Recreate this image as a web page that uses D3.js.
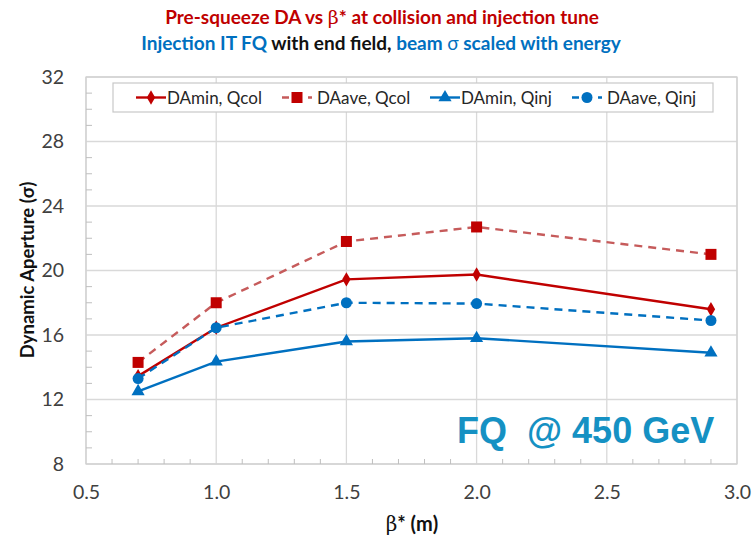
<!DOCTYPE html>
<html><head><meta charset="utf-8">
<script src="https://cdn.jsdelivr.net/npm/d3@7"></script>
<style>
body{margin:0;background:#fff;}
svg{display:block;font-family:Lato,"Liberation Sans",sans-serif;}
</style></head>
<body><svg id="c" width="754" height="538"></svg>
<script>
const betaStar = [0.7, 1.0, 1.5, 2.0, 2.9];
const daMinQcol = [13.45, 16.45, 19.45, 19.75, 17.6];
const daAveQcol = [14.3, 18.0, 21.8, 22.7, 21.0];
const daMinQinj = [12.5, 14.35, 15.6, 15.8, 14.9];
const daAveQinj = [13.3, 16.45, 18.0, 17.95, 16.9];
const xTicks = [0.5, 1.0, 1.5, 2.0, 2.5, 3.0];
const yTicks = [8, 12, 16, 20, 24, 28, 32];
const seriesNames = ["DAmin, Qcol", "DAave, Qcol", "DAmin, Qinj", "DAave, Qinj"];

const series = [
  {name: seriesNames[0], values: daMinQcol, color: "#C00000", lineColor: "#C00000", dash: null, marker: "diamond"},
  {name: seriesNames[1], values: daAveQcol, color: "#C00000", lineColor: "#C65B5B", dash: "8,6", marker: "square"},
  {name: seriesNames[2], values: daMinQinj, color: "#0070C0", lineColor: "#0070C0", dash: null, marker: "triangle"},
  {name: seriesNames[3], values: daAveQinj, color: "#0070C0", lineColor: "#0070C0", dash: "8,6", marker: "circle"}
];

const svg = d3.select("#c");
const L = 86, R = 737, T = 77, B = 464;
const x = d3.scaleLinear().domain([0.5, 3.0]).range([L, R]);
const y = d3.scaleLinear().domain([8, 32]).range([B, T]);

// Titles
const t1 = svg.append("text").attr("x", 382).attr("y", 24).attr("text-anchor", "middle")
  .attr("font-size", 19).attr("font-weight", "bold").attr("fill", "#C00000");
t1.append("tspan").text("Pre-squeeze DA vs ");
t1.append("tspan").attr("font-weight", "normal").attr("font-family", "DejaVu Serif").attr("font-size", 19).text("β");
t1.append("tspan").text("* at collision and injection tune");
const t2 = svg.append("text").attr("x", 381).attr("y", 50).attr("text-anchor", "middle")
  .attr("font-size", 19).attr("font-weight", "bold");
t2.append("tspan").attr("fill", "#0070C0").text("Injection IT FQ");
t2.append("tspan").attr("fill", "#111").text(" with end field,");
t2.append("tspan").attr("fill", "#0070C0").text(" beam ");
t2.append("tspan").attr("fill", "#0070C0").attr("font-weight", "normal").text("σ");
t2.append("tspan").attr("fill", "#0070C0").text(" scaled with energy");

// Grid
const grid = svg.append("g");
grid.selectAll("line.gy").data(yTicks).enter().append("line")
  .attr("x1", L).attr("x2", R).attr("y1", d => y(d)).attr("y2", d => y(d))
  .attr("stroke", "#D9D9D9").attr("stroke-width", 1.3);
grid.selectAll("line.gx").data(xTicks).enter().append("line")
  .attr("y1", T).attr("y2", B).attr("x1", d => x(d)).attr("x2", d => x(d))
  .attr("stroke", "#D9D9D9").attr("stroke-width", 1.3);
grid.append("rect").attr("x", L).attr("y", T).attr("width", R - L).attr("height", B - T)
  .attr("fill", "none").attr("stroke", "#D0D0D0").attr("stroke-width", 1.2);

// Minor ticks (inside)
const yMinor = d3.range(9, 32).filter(v => v % 4 !== 0);
grid.selectAll("line.my").data(yMinor).enter().append("line")
  .attr("x1", L).attr("x2", L + 6).attr("y1", d => y(d)).attr("y2", d => y(d))
  .attr("stroke", "#BFBFBF").attr("stroke-width", 1);
const xMinor = d3.range(6, 30).map(v => v / 10).filter(v => Math.abs(v * 2 - Math.round(v * 2)) > 1e-6);
grid.selectAll("line.mx").data(xMinor).enter().append("line")
  .attr("y1", B).attr("y2", B - 5).attr("x1", d => x(d)).attr("x2", d => x(d))
  .attr("stroke", "#BFBFBF").attr("stroke-width", 1);

// Axes labels
const yAxis = d3.axisLeft(y).tickValues(yTicks).tickSize(0).tickPadding(22).tickFormat(d3.format("d"));
const ga = svg.append("g").attr("transform", `translate(${L},0)`).call(yAxis);
ga.select(".domain").remove();
ga.selectAll("text").attr("font-size", 19.5).attr("fill", "#404040").attr("font-family", "Lato,sans-serif");
const xAxis = d3.axisBottom(x).tickValues(xTicks).tickSize(0).tickPadding(28).tickFormat(d3.format(".1f"));
const gx = svg.append("g").attr("transform", `translate(0,${B})`).call(xAxis);
gx.select(".domain").remove();
gx.selectAll("text").attr("font-size", 19.5).attr("fill", "#404040").attr("font-family", "Lato,sans-serif")
  .attr("dy", "0.35em");

svg.append("text").attr("transform", "translate(34,270) rotate(-90)").attr("text-anchor", "middle")
  .attr("font-size", 18.5).attr("font-weight", "bold").attr("fill", "#111")
  .text("Dynamic Aperture (σ)");
const xl = svg.append("text").attr("x", 412).attr("y", 531).attr("text-anchor", "middle")
  .attr("font-size", 20).attr("font-weight", "bold").attr("fill", "#111");
xl.append("tspan").attr("font-weight", "normal").attr("font-family", "DejaVu Serif").text("β");
xl.append("tspan").text("* (m)");

// Big annotation
svg.append("text").attr("x", 457).attr("y", 443).attr("font-size", 36).attr("font-weight", "bold")
  .attr("font-family", "Liberation Sans,Arial,sans-serif").attr("fill", "#1591C3")
  .attr("xml:space", "preserve").style("white-space", "pre")
  .text("FQ  @ 450 GeV");

// Markers
function drawMarker(g, type, cx, cy, color) {
  if (type === "diamond") {
    g.append("path").attr("d", d3.symbol(d3.symbolDiamond, 60)()).attr("transform", `translate(${cx},${cy})`).attr("fill", color);
  } else if (type === "square") {
    g.append("rect").attr("x", cx - 5.5).attr("y", cy - 5.5).attr("width", 11).attr("height", 11).attr("fill", color);
  } else if (type === "triangle") {
    g.append("path").attr("d", d3.symbol(d3.symbolTriangle, 75)()).attr("transform", `translate(${cx},${cy})`).attr("fill", color);
  } else {
    g.append("circle").attr("cx", cx).attr("cy", cy).attr("r", 5.5).attr("fill", color);
  }
}

const line = d3.line().x(d => x(d[0])).y(d => y(d[1]));
const plot = svg.append("g");
series.forEach(s => {
  const pts = betaStar.map((b, i) => [b, s.values[i]]);
  plot.append("path").attr("d", line(pts)).attr("fill", "none").attr("stroke", s.lineColor)
    .attr("stroke-width", 2.4).attr("stroke-dasharray", s.dash);
});
series.forEach(s => {
  betaStar.forEach((b, i) => drawMarker(plot, s.marker, x(b), y(s.values[i]), s.color));
});

// Legend
const lg = svg.append("g");
lg.append("rect").attr("x", 113).attr("y", 83).attr("width", 600).attr("height", 29)
  .attr("fill", "#fff").attr("stroke", "#C8C8C8").attr("stroke-width", 1.2);
const legX = [136, 282, 430, 572];
const legTextX = [167, 317, 461, 607];
series.forEach((s, i) => {
  const lx = legX[i], ly = 97.5;
  lg.append("line").attr("x1", lx).attr("x2", lx + 30).attr("y1", ly).attr("y2", ly)
    .attr("stroke", s.lineColor).attr("stroke-width", 2.4).attr("stroke-dasharray", s.dash ? "7,6" : null);
  drawMarker(lg, s.marker, lx + 15, ly, s.color);
  lg.append("text").attr("x", legTextX[i]).attr("y", ly + 6).attr("font-size", 17)
    .attr("fill", "#262626").text(s.name);
});
</script></body></html>
